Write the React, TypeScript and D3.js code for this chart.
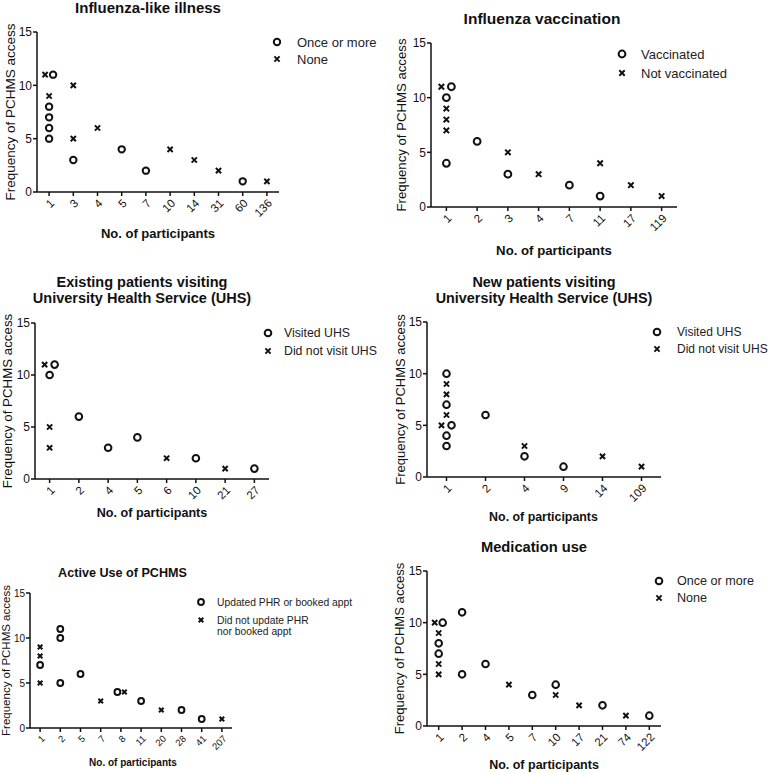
import React from "react";
import * as d3 from "d3";

// ---------- DATA ----------
type Pt = [string, number];

// Panel 1: Influenza-like illness
const iliCategories = ["1", "3", "4", "5", "7", "10", "14", "31", "60", "136"];
const iliOnceOrMore: Pt[] = [["1", 5], ["1", 6], ["1", 7], ["1", 8], ["1", 11], ["3", 3], ["5", 4], ["7", 2], ["60", 1]];
const iliNone: Pt[] = [["1", 11], ["1", 9], ["3", 10], ["3", 5], ["4", 6], ["10", 4], ["14", 3], ["31", 2], ["136", 1]];

// Panel 2: Influenza vaccination
const vacCategories = ["1", "2", "3", "4", "7", "11", "17", "119"];
const vacVaccinated: Pt[] = [["1", 4], ["1", 10], ["1", 11], ["2", 6], ["3", 3], ["7", 2], ["11", 1]];
const vacNotVaccinated: Pt[] = [["1", 11], ["1", 9], ["1", 8], ["1", 7], ["3", 5], ["4", 3], ["11", 4], ["17", 2], ["119", 1]];

// Panel 3: Existing patients visiting UHS
const existCategories = ["1", "2", "4", "5", "6", "10", "21", "27"];
const existVisited: Pt[] = [["1", 10], ["1", 11], ["2", 6], ["4", 3], ["5", 4], ["10", 2], ["27", 1]];
const existNotVisited: Pt[] = [["1", 11], ["1", 5], ["1", 3], ["6", 2], ["21", 1]];

// Panel 4: New patients visiting UHS
const newCategories = ["1", "2", "4", "9", "14", "109"];
const newVisited: Pt[] = [["1", 3], ["1", 4], ["1", 5], ["1", 7], ["1", 10], ["2", 6], ["4", 2], ["9", 1]];
const newNotVisited: Pt[] = [["1", 5], ["1", 6], ["1", 8], ["1", 9], ["4", 3], ["14", 2], ["109", 1]];

// Panel 5: Active use of PCHMS
const activeCategories = ["1", "2", "5", "7", "8", "11", "20", "28", "41", "207"];
const activeUpdated: Pt[] = [["1", 7], ["2", 5], ["2", 10], ["2", 11], ["5", 6], ["8", 4], ["11", 3], ["28", 2], ["41", 1]];
const activeNotUpdated: Pt[] = [["1", 5], ["1", 8], ["1", 9], ["7", 3], ["8", 4], ["20", 2], ["207", 1]];

// Panel 6: Medication use
const medCategories = ["1", "2", "4", "5", "7", "10", "17", "21", "74", "122"];
const medOnceOrMore: Pt[] = [["1", 7], ["1", 8], ["1", 10], ["2", 5], ["2", 11], ["4", 6], ["7", 3], ["10", 4], ["21", 2], ["122", 1]];
const medNone: Pt[] = [["1", 10], ["1", 9], ["1", 6], ["1", 5], ["5", 4], ["10", 3], ["17", 2], ["74", 1]];

const yTicks = [0, 5, 10, 15];

// ---------- LAYOUT ----------
interface Panel {
  title: string[];
  categories: string[];
  circles: Pt[];
  crosses: Pt[];
  circleLabel: string[];
  crossLabel: string[];
  x0: number; x1: number; yBot: number; yTop: number;
  titleX: number; titleY: number; titleLH: number; titleSize: number;
  legX: number; legTextX: number; legY1: number; legY2: number; legSize: number; legLH: number;
  yLabX: number; yLabSize: number;
  xLabX: number; xLabY: number; xLabSize: number;
  tickSize: number; xTickSize: number;
  jitter: number; leftFirst: "circle" | "cross";
  r: number; cross: number;
}

const panels: Panel[] = [
  {
    title: ["Influenza-like illness"], categories: iliCategories, circles: iliOnceOrMore, crosses: iliNone,
    circleLabel: ["Once or more"], crossLabel: ["None"],
    x0: 37, x1: 279, yBot: 192, yTop: 32,
    titleX: 148, titleY: 8, titleLH: 15, titleSize: 15,
    legX: 277, legTextX: 297, legY1: 42, legY2: 59, legSize: 13, legLH: 13,
    yLabX: 10, yLabSize: 13.5, xLabX: 158, xLabY: 233, xLabSize: 13,
    tickSize: 12, xTickSize: 11.5, jitter: 4, leftFirst: "cross", r: 3.2, cross: 2.6,
  },
  {
    title: ["Influenza vaccination"], categories: vacCategories, circles: vacVaccinated, crosses: vacNotVaccinated,
    circleLabel: ["Vaccinated"], crossLabel: ["Not vaccinated"],
    x0: 431, x1: 677, yBot: 207, yTop: 43,
    titleX: 542, titleY: 19, titleLH: 15, titleSize: 15.5,
    legX: 622, legTextX: 641, legY1: 54, legY2: 73, legSize: 13, legLH: 13,
    yLabX: 401, yLabSize: 13.2, xLabX: 554, xLabY: 250, xLabSize: 13.2,
    tickSize: 12, xTickSize: 11.5, jitter: 5, leftFirst: "cross", r: 3.4, cross: 2.7,
  },
  {
    title: ["Existing patients visiting", "University Health Service (UHS)"], categories: existCategories,
    circles: existVisited, crosses: existNotVisited,
    circleLabel: ["Visited UHS"], crossLabel: ["Did not visit UHS"],
    x0: 35, x1: 269, yBot: 479, yTop: 323,
    titleX: 142, titleY: 282, titleLH: 15.5, titleSize: 14.5,
    legX: 268, legTextX: 284, legY1: 333, legY2: 351, legSize: 12.3, legLH: 13,
    yLabX: 7, yLabSize: 13.3, xLabX: 152, xLabY: 513, xLabSize: 12.6,
    tickSize: 12, xTickSize: 11.5, jitter: 5, leftFirst: "cross", r: 3.3, cross: 2.6,
  },
  {
    title: ["New patients visiting", "University Health Service (UHS)"], categories: newCategories,
    circles: newVisited, crosses: newNotVisited,
    circleLabel: ["Visited UHS"], crossLabel: ["Did not visit UHS"],
    x0: 427, x1: 661, yBot: 477, yTop: 322,
    titleX: 544, titleY: 282, titleLH: 15.5, titleSize: 14.4,
    legX: 657, legTextX: 677, legY1: 332, legY2: 349, legSize: 12, legLH: 13,
    yLabX: 400, yLabSize: 13, xLabX: 543.5, xLabY: 517, xLabSize: 12.4,
    tickSize: 12, xTickSize: 11.5, jitter: 5, leftFirst: "cross", r: 3.3, cross: 2.6,
  },
  {
    title: ["Active Use of PCHMS"], categories: activeCategories, circles: activeUpdated, crosses: activeNotUpdated,
    circleLabel: ["Updated PHR or booked appt"], crossLabel: ["Did not update PHR", "nor booked appt"],
    x0: 30, x1: 232, yBot: 728, yTop: 593,
    titleX: 122.5, titleY: 573, titleLH: 15, titleSize: 12.6,
    legX: 201, legTextX: 217, legY1: 602, legY2: 620, legSize: 10.3, legLH: 11.5,
    yLabX: 6, yLabSize: 11.5, xLabX: 133, xLabY: 762, xLabSize: 10,
    tickSize: 10, xTickSize: 9.5, jitter: 3.5, leftFirst: "circle", r: 2.9, cross: 2.3,
  },
  {
    title: ["Medication use"], categories: medCategories, circles: medOnceOrMore, crosses: medNone,
    circleLabel: ["Once or more"], crossLabel: ["None"],
    x0: 427, x1: 661, yBot: 726, yTop: 571,
    titleX: 534, titleY: 547, titleLH: 15, titleSize: 14.7,
    legX: 659, legTextX: 677, legY1: 581, legY2: 598, legSize: 12.6, legLH: 13,
    yLabX: 399, yLabSize: 13.1, xLabX: 544, xLabY: 765, xLabSize: 12.5,
    tickSize: 12, xTickSize: 11.5, jitter: 4, leftFirst: "cross", r: 3.3, cross: 2.6,
  },
];

const FONT = "'Liberation Sans', Arial, Helvetica, sans-serif";
const INK = "#111";

function CircleMark({ x, y, r }: { x: number; y: number; r: number }) {
  return <circle cx={x} cy={y} r={r} fill="none" stroke={INK} strokeWidth={2} />;
}
function CrossMark({ x, y, s }: { x: number; y: number; s: number }) {
  return (
    <path d={`M${x - s},${y - s}L${x + s},${y + s}M${x - s},${y + s}L${x + s},${y - s}`} stroke={INK} strokeWidth={2} />
  );
}

function PanelView({ p }: { p: Panel }) {
  const x = d3.scalePoint<string>().domain(p.categories).range([p.x0, p.x1]).padding(0.5);
  const y = d3.scaleLinear().domain([0, 15]).range([p.yBot, p.yTop]);

  // overlapping points (same category and value) are shifted side by side
  type M = { kind: "circle" | "cross"; cat: string; v: number; dx: number };
  const marks: M[] = [
    ...p.circles.map(([c, v]) => ({ kind: "circle" as const, cat: c, v, dx: 0 })),
    ...p.crosses.map(([c, v]) => ({ kind: "cross" as const, cat: c, v, dx: 0 })),
  ];
  const groups = d3.group(marks, (m) => `${m.cat}|${m.v}`);
  groups.forEach((g) => {
    if (g.length > 1) {
      g.sort((a, b) => (a.kind === p.leftFirst ? -1 : 0) - (b.kind === p.leftFirst ? -1 : 0));
      g.forEach((m, i) => (m.dx = (i - (g.length - 1) / 2) * 2 * p.jitter));
    }
  });

  const yMid = (p.yBot + p.yTop) / 2;

  return (
    <g fontFamily={FONT}>
      {p.title.map((t, i) => (
        <text key={i} x={p.titleX} y={p.titleY + i * p.titleLH} dy="0.35em" textAnchor="middle"
          fontWeight="bold" fontSize={p.titleSize} fill={INK}>{t}</text>
      ))}
      <text transform={`translate(${p.yLabX},${yMid}) rotate(-90)`} dy="0.35em" textAnchor="middle"
        fontSize={p.yLabSize} fill={INK}>Frequency of PCHMS access</text>
      <text x={p.xLabX} y={p.xLabY} dy="0.35em" textAnchor="middle" fontWeight="bold"
        fontSize={p.xLabSize} fill={INK}>No. of participants</text>

      {/* axes */}
      <line x1={p.x0} x2={p.x0} y1={p.yBot} y2={p.yTop} stroke={INK} strokeWidth={1.5} />
      <line x1={p.x0} x2={p.x1} y1={p.yBot} y2={p.yBot} stroke={INK} strokeWidth={1.5} />
      {yTicks.map((t) => (
        <g key={t}>
          <line x1={p.x0 - 4} x2={p.x0} y1={y(t)} y2={y(t)} stroke={INK} strokeWidth={1.5} />
          <text x={p.x0 - 5} y={y(t)} dy="0.35em" textAnchor="end" fontSize={p.tickSize} fill={INK}>{t}</text>
        </g>
      ))}
      {p.categories.map((c) => (
        <g key={c}>
          <line x1={x(c)!} x2={x(c)!} y1={p.yBot} y2={p.yBot + 4} stroke={INK} strokeWidth={1.5} />
          <text transform={`translate(${x(c)! + 3},${p.yBot + 9}) rotate(-45)`} dy="0.35em" textAnchor="end"
            fontSize={p.xTickSize} fill={INK}>{c}</text>
        </g>
      ))}

      {/* points */}
      {marks.map((m, i) =>
        m.kind === "circle" ? (
          <CircleMark key={i} x={x(m.cat)! + m.dx} y={y(m.v)} r={p.r} />
        ) : (
          <CrossMark key={i} x={x(m.cat)! + m.dx} y={y(m.v)} s={p.cross} />
        )
      )}

      {/* legend */}
      <CircleMark x={p.legX} y={p.legY1} r={p.r} />
      {p.circleLabel.map((t, i) => (
        <text key={i} x={p.legTextX} y={p.legY1 + i * p.legLH} dy="0.35em" fontSize={p.legSize} fill="#222">{t}</text>
      ))}
      <CrossMark x={p.legX} y={p.legY2} s={p.cross} />
      {p.crossLabel.map((t, i) => (
        <text key={i} x={p.legTextX} y={p.legY2 + i * p.legLH} dy="0.35em" fontSize={p.legSize} fill="#222">{t}</text>
      ))}
    </g>
  );
}

export default function App() {
  return (
    <svg width={769} height={773} viewBox="0 0 769 773"
      style={{ position: "absolute", left: 0, top: 0, background: "#fff" }}>
      <rect width={769} height={773} fill="#fff" />
      {panels.map((p, i) => (
        <PanelView key={i} p={p} />
      ))}
    </svg>
  );
}
